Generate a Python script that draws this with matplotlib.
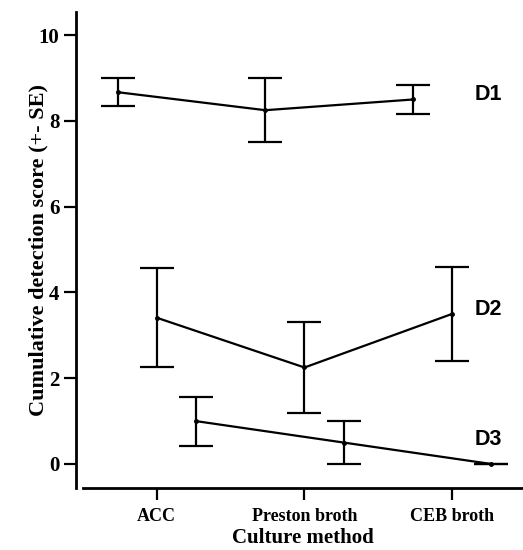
import matplotlib.pyplot as plt

methods = ["ACC", "Preston broth", "CEB broth"]
series = ["D1", "D2", "D3"]
means = {
    "D1": [8.67, 8.25, 8.50],
    "D2": [3.41, 2.25, 3.50],
    "D3": [1.00, 0.50, 0.00],
}
errs = {
    "D1": [0.33, 0.75, 0.33],
    "D2": [1.15, 1.05, 1.10],
    "D3": [0.57, 0.50, 0.00],
}
label_y = {"D1": 8.62, "D2": 3.61, "D3": 0.56}
shift = {"D1": -0.265, "D2": 0.0, "D3": 0.265}

serif = ["Liberation Serif", "DejaVu Serif"]
sans = ["Liberation Sans", "DejaVu Sans"]

fig = plt.figure(figsize=(5.23, 5.5), dpi=100)
ax = fig.add_axes([83 / 523, 62 / 550, 1 - 83 / 523, (488 - 12) / 550])

for s in series:
    xs = [i + shift[s] for i in range(len(methods))]
    ax.errorbar(xs, means[s], yerr=errs[s], color="black", lw=1.6,
                elinewidth=1.6, capsize=12, capthick=1.6,
                marker="o", markersize=2.5)
    ax.text(2.15, label_y[s], s, fontsize=15.5, fontweight="bold",
            family=sans, va="center", ha="left")

ax.set_xlim(-0.5, 2.48)
ax.set_ylim(-0.56, 10.54)
ax.set_xticks(range(len(methods)))
ax.set_xticklabels(methods)
ax.set_yticks([0, 2, 4, 6, 8, 10])

for sp in ["top", "right"]:
    ax.spines[sp].set_visible(False)
for sp in ["left", "bottom"]:
    ax.spines[sp].set_linewidth(2.0)
ax.spines["left"].set_position(("outward", 5))

ax.tick_params(length=8.5, width=1.6)
ax.tick_params(axis="x", pad=6)
ax.tick_params(axis="y", pad=3.5)
for lab in ax.get_xticklabels():
    lab.set_family(serif)
    lab.set_fontweight("bold")
    lab.set_fontsize(13)
for lab in ax.get_yticklabels():
    lab.set_family(serif)
    lab.set_fontweight("bold")
    lab.set_fontsize(15)

ax.set_xlabel("Culture method", family=serif, fontweight="bold",
              fontsize=15, labelpad=2)
ax.set_ylabel("Cumulative detection score (+- SE)", family=serif,
              fontweight="bold", fontsize=16, labelpad=-7)

fig.savefig("out.png", dpi=100)
